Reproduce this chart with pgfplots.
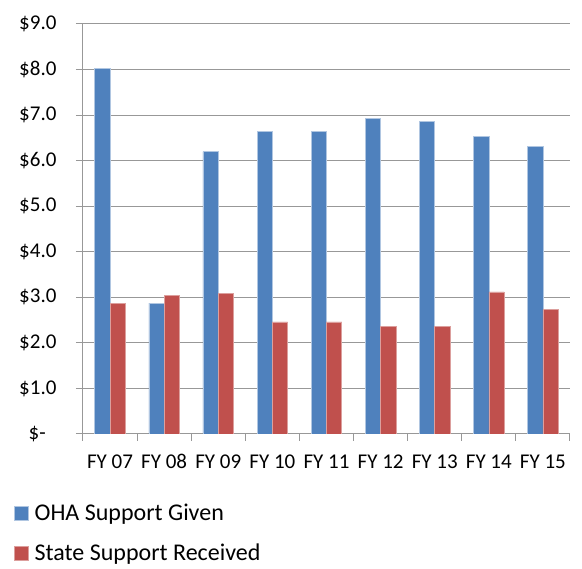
\documentclass[border=0pt]{standalone}
\usepackage{fontspec}
\setmainfont{Carlito}
\usepackage{pgfplots}
\pgfplotsset{compat=1.18}
\definecolor{ohablue}{HTML}{4F81BD}
\definecolor{statered}{HTML}{C0504D}
\definecolor{gridgray}{HTML}{989898}
\begin{document}
\begin{tikzpicture}
\path[use as bounding box] (0,0) rectangle (582pt,569pt);
\begin{axis}[
  at={(83pt,135pt)}, anchor=south west,
  scale only axis, width=487pt, height=410pt,
  xmin=-0.5, xmax=8.5, ymin=0, ymax=9,
  ybar=0pt, bar width=15.3pt,
  xtick={0,...,8},
  xticklabels={FY 07,FY 08,FY 09,FY 10,FY 11,FY 12,FY 13,FY 14,FY 15},
  minor xtick={-0.5,0.5,...,8.5},
  major x tick style={draw=none},
  ytick={0,...,9},
  yticklabels={\$-\hphantom{0},\$1.0,\$2.0,\$3.0,\$4.0,\$5.0,\$6.0,\$7.0,\$8.0,\$9.0},
  axis x line*=bottom, axis y line*=left,
  axis line style={-, gridgray, line width=1pt},
  tick align=outside,
  major tick length=7pt, minor tick length=7pt,
  tick style={gridgray, line width=1pt},
  ymajorgrids, grid style={gridgray, line width=1pt},
  ticklabel style={font=\fontsize{21}{25}\selectfont, text=black},
  yticklabel style={anchor=east, xshift=-16pt},
  xticklabel style={yshift=-10pt},
  legend style={at={(-0.142,-0.165)}, anchor=north west, draw=none, fill=none,
    font=\fontsize{24}{28}\selectfont, row sep=18pt, inner sep=0pt,
    nodes={inner sep=2pt}},
  legend cell align=left,
  legend image code/.code={\fill[#1] (0pt,-7pt) rectangle (14pt,7pt); \path (18pt,0pt);},
]
\addplot[fill=ohablue, draw=ohablue!45!white, line width=0.6pt] coordinates {
  (0,8.03) (1,2.87) (2,6.20) (3,6.65) (4,6.64) (5,6.92) (6,6.86) (7,6.53) (8,6.31)};
\addplot[fill=statered, draw=statered!55!white, line width=0.6pt] coordinates {
  (0,2.87) (1,3.04) (2,3.08) (3,2.46) (4,2.46) (5,2.36) (6,2.36) (7,3.12) (8,2.73)};
\legend{OHA Support Given, State Support Received}
\end{axis}
\end{tikzpicture}
\end{document}
